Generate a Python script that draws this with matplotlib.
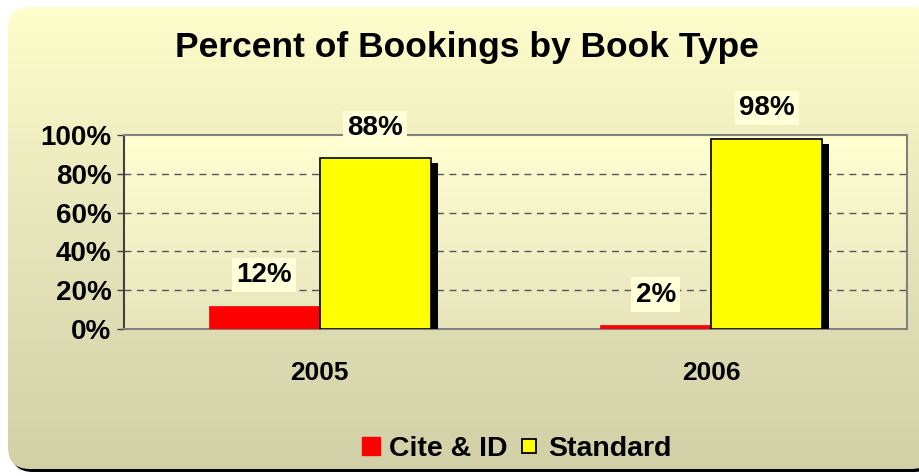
import matplotlib
matplotlib.use("Agg")
import matplotlib.pyplot as plt
import numpy as np
from matplotlib.patches import FancyBboxPatch
from matplotlib.lines import Line2D
import matplotlib.patheffects as pe
from matplotlib.colors import LinearSegmentedColormap

years = ["2005", "2006"]
cite_id = [12, 2]
standard = [88, 98]
yticks = [0, 20, 40, 60, 80, 100]

plt.rcParams['font.family'] = ['Liberation Sans', 'DejaVu Sans']
plt.rcParams['font.weight'] = 'bold'

W, H = 920, 476
fig = plt.figure(figsize=(W / 100, H / 100), dpi=100)
fig.patch.set_facecolor('white')

# background panel with gradient and rounded corners
bg = fig.add_axes([0, 0, 1, 1])
bg.set_xlim(0, W)
bg.set_ylim(0, H)
bg.axis('off')
shadow = FancyBboxPatch((11, 4), 925, 462, boxstyle="round,pad=0,rounding_size=22",
                        facecolor='black', edgecolor='none')
bg.add_patch(shadow)
panel = FancyBboxPatch((8, 7), 925, 462, boxstyle="round,pad=0,rounding_size=22",
                       facecolor='none', edgecolor='none')
bg.add_patch(panel)
cmap_bg = LinearSegmentedColormap.from_list('bg', ['#D0CFA6', '#E6E4BA', '#FFFFCC'])
grad = np.linspace(0, 1, 256).reshape(-1, 1)
im = bg.imshow(grad, extent=[0, W, 0, H], origin='lower', cmap=cmap_bg,
               aspect='auto', zorder=1)
im.set_clip_path(panel)

fig.text(467 / W, 1 - 48 / H, "Percent of Bookings by Book Type",
         ha='center', va='center', fontsize=25.5, fontweight='bold')

ax = fig.add_axes([124 / W, (H - 329) / H, 783 / W, 194 / H])
ax.set_facecolor('none')
cmap_pa = LinearSegmentedColormap.from_list('pa', ['#E8E5BD', '#FFFFD2'])
ax.imshow(grad, extent=[0, 1, 0, 1], origin='lower', cmap=cmap_pa,
          aspect='auto', transform=ax.transAxes, zorder=0)

x = np.arange(len(years))
w = 0.284
shadow_fx = [pe.SimplePatchShadow(offset=(5, -3.5), shadow_rgbFace='black', alpha=1.0), pe.Normal()]
b1 = ax.bar(x - w / 2, cite_id, w, color='#FF0000', edgecolor='#FF0000', linewidth=0.5, zorder=3)
b2 = ax.bar(x + w / 2, standard, w, color='#FFFF00', edgecolor='black', linewidth=1.2, zorder=3)
for b in list(b1) + list(b2):
    b.set_path_effects(shadow_fx)

for bars, vals in ((b1, cite_id), (b2, standard)):
    for b, v in zip(bars, vals):
        ax.annotate(f"{v}%", (b.get_x() + b.get_width() / 2, v), xytext=(0, 22),
                    textcoords='offset points', ha='center', va='center',
                    fontsize=20, fontweight='bold', annotation_clip=False,
                    bbox=dict(boxstyle='square,pad=0.15', facecolor='#FFFFD8', edgecolor='none'),
                    zorder=5)

ax.set_xlim(-0.5, 1.5)
ax.set_ylim(0, 100)
ax.set_yticks(yticks)
ax.set_yticklabels([f"{t}%" for t in yticks], fontsize=20, fontweight='bold')
ax.set_xticks(x)
ax.set_xticklabels(years, fontsize=19, fontweight='bold')
ax.tick_params(axis='x', length=0, pad=23)
ax.tick_params(axis='y', length=5, width=1, color='#404040', pad=4, direction='out')
for y in yticks[1:-1]:
    ax.axhline(y, color='#555555', linestyle=(0, (5, 4)), linewidth=1, zorder=1)
for s in ax.spines.values():
    s.set_color('#808080')
    s.set_linewidth(1.5)
ax.spines['left'].set_color('#404040')

handles = [Line2D([], [], marker='s', linestyle='none', markersize=13,
                  markerfacecolor='#FF0000', markeredgecolor='#FF0000'),
           Line2D([], [], marker='s', linestyle='none', markersize=10,
                  markerfacecolor='#FFFF00', markeredgecolor='black', markeredgewidth=1.3)]
fig.legend(handles, ["Cite & ID", "Standard"], loc='center', bbox_to_anchor=(516 / W, 1 - 449 / H),
           ncol=2, frameon=False, handlelength=0.7, handletextpad=0.3,
           columnspacing=0.4, prop={'weight': 'bold', 'size': 20.5})

fig.savefig("out.png", dpi=100)
